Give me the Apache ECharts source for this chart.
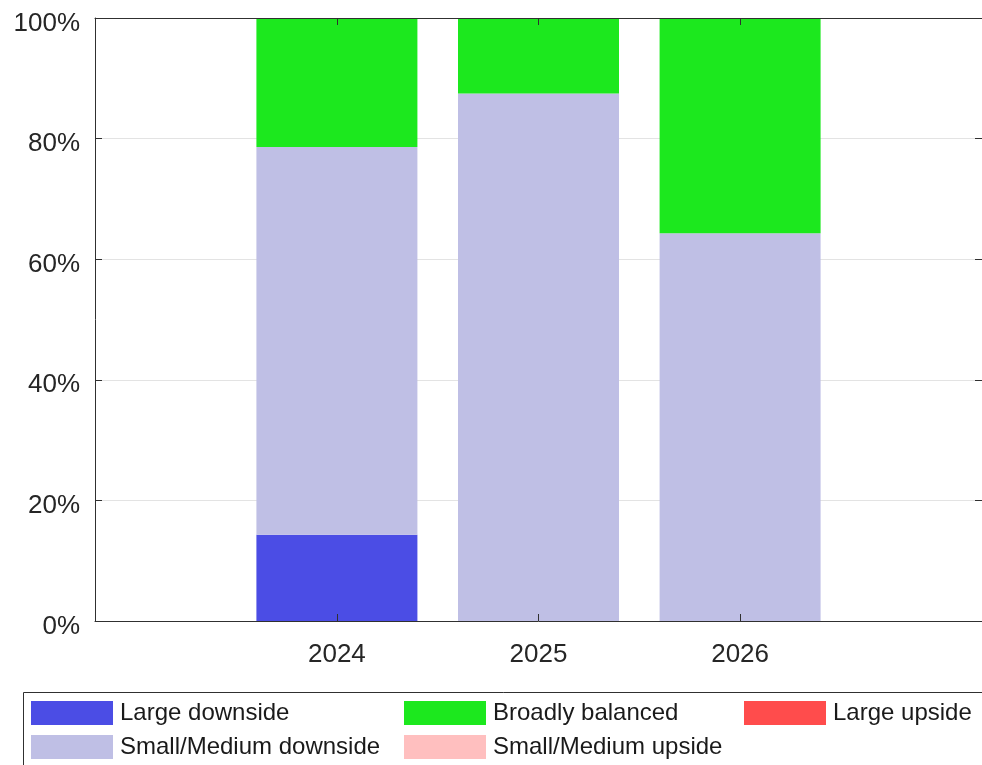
<!DOCTYPE html>
<html>
<head>
<meta charset="utf-8">
<script src="https://cdn.jsdelivr.net/npm/echarts@6/dist/echarts.min.js"></script>
<style>
html,body{margin:0;padding:0;background:#fff;}
#chart{width:982px;height:765px;}
</style>
</head>
<body>
<div id="chart"></div>
<script>
// Data (percent of respondents)
const years = [2024, 2025, 2026];
const largeDownside = [14.3, 0, 0];
const smallMediumDownside = [64.3, 87.5, 64.3];
const broadlyBalanced = [21.4, 12.5, 35.7];
const smallMediumUpside = [0, 0, 0];
const largeUpside = [0, 0, 0];
const yTicks = [0, 20, 40, 60, 80, 100];

const seriesNames = ['Large downside', 'Small/Medium downside', 'Broadly balanced', 'Small/Medium upside', 'Large upside'];
const seriesValues = [largeDownside, smallMediumDownside, broadlyBalanced, smallMediumUpside, largeUpside];
const seriesColors = ['#4b4de5', '#bfbfe5', '#1ce81e', '#ffbfbf', '#ff4c4c'];

const FONT = '"Liberation Sans", Arial, sans-serif';
const chart = echarts.init(document.getElementById('chart'), null, {renderer: 'canvas'});

const axisLineStyle = {color: '#303030', width: 1};

const legendCommon = {
  orient: 'vertical',
  itemWidth: 82,
  itemHeight: 24,
  itemGap: 10,
  padding: 0,
  icon: 'rect',
  selectedMode: false,
  textStyle: {fontFamily: FONT, fontSize: 24, color: '#1a1a1a', padding: [0, 0, 0, 2]}
};

chart.setOption({
  animation: false,
  backgroundColor: '#fff',
  grid: {left: 95, top: 18, width: 888, height: 603, containLabel: false},
  legend: [
    Object.assign({}, legendCommon, {left: 31, top: 701, data: [seriesNames[0], seriesNames[1]]}),
    Object.assign({}, legendCommon, {left: 404, top: 701, data: [seriesNames[2], seriesNames[3]]}),
    Object.assign({}, legendCommon, {left: 744, top: 701, data: [seriesNames[4]]})
  ],
  graphic: [{
    type: 'rect',
    shape: {x: 23.5, y: 692.5, width: 1000, height: 120},
    style: {fill: 'none', stroke: '#303030', lineWidth: 1},
    z: -1
  }],
  xAxis: [{
    type: 'value',
    position: 'bottom',
    min: 2022.8,
    max: 2027.2,
    z: 5,
    axisLine: {show: true, onZero: false, lineStyle: axisLineStyle},
    axisTick: {show: true, inside: true, length: 7, customValues: years, lineStyle: axisLineStyle},
    axisLabel: {customValues: years, fontFamily: FONT, fontSize: 26, color: '#262626', margin: 21,
                formatter: v => String(Math.round(v))},
    splitLine: {show: false}
  }, {
    type: 'value',
    position: 'top',
    min: 2022.8,
    max: 2027.2,
    z: 5,
    axisLine: {show: true, onZero: false, lineStyle: axisLineStyle},
    axisTick: {show: true, inside: true, length: 7, customValues: years, lineStyle: axisLineStyle},
    axisLabel: {show: false},
    splitLine: {show: false}
  }],
  yAxis: [{
    type: 'value',
    position: 'left',
    min: 0,
    max: 100,
    interval: 20,
    axisLine: {show: true, onZero: false, lineStyle: axisLineStyle},
    axisTick: {show: true, inside: true, length: 7, lineStyle: axisLineStyle},
    axisLabel: {margin: 15, formatter: '{v|{value}%}',
                rich: {v: {fontFamily: FONT, fontSize: 26, color: '#262626', padding: [11, 0, 0, 0]}}},
    splitLine: {show: true, lineStyle: {color: '#e3e3e3', width: 1}}
  }, {
    type: 'value',
    position: 'right',
    min: 0,
    max: 100,
    interval: 20,
    axisLine: {show: true, onZero: false, lineStyle: axisLineStyle},
    axisTick: {show: true, inside: true, length: 7, lineStyle: axisLineStyle},
    axisLabel: {show: false},
    splitLine: {show: false}
  }],
  series: seriesNames.map((name, i) => ({
    name: name,
    type: 'bar',
    stack: 'total',
    xAxisIndex: 0,
    yAxisIndex: 0,
    barWidth: 161,
    itemStyle: {color: seriesColors[i]},
    // value first so that the y dimension is the stacked one
    encode: {x: 1, y: 0},
    data: years.map((y, j) => [seriesValues[i][j], y])
  }))
});
</script>
</body>
</html>
